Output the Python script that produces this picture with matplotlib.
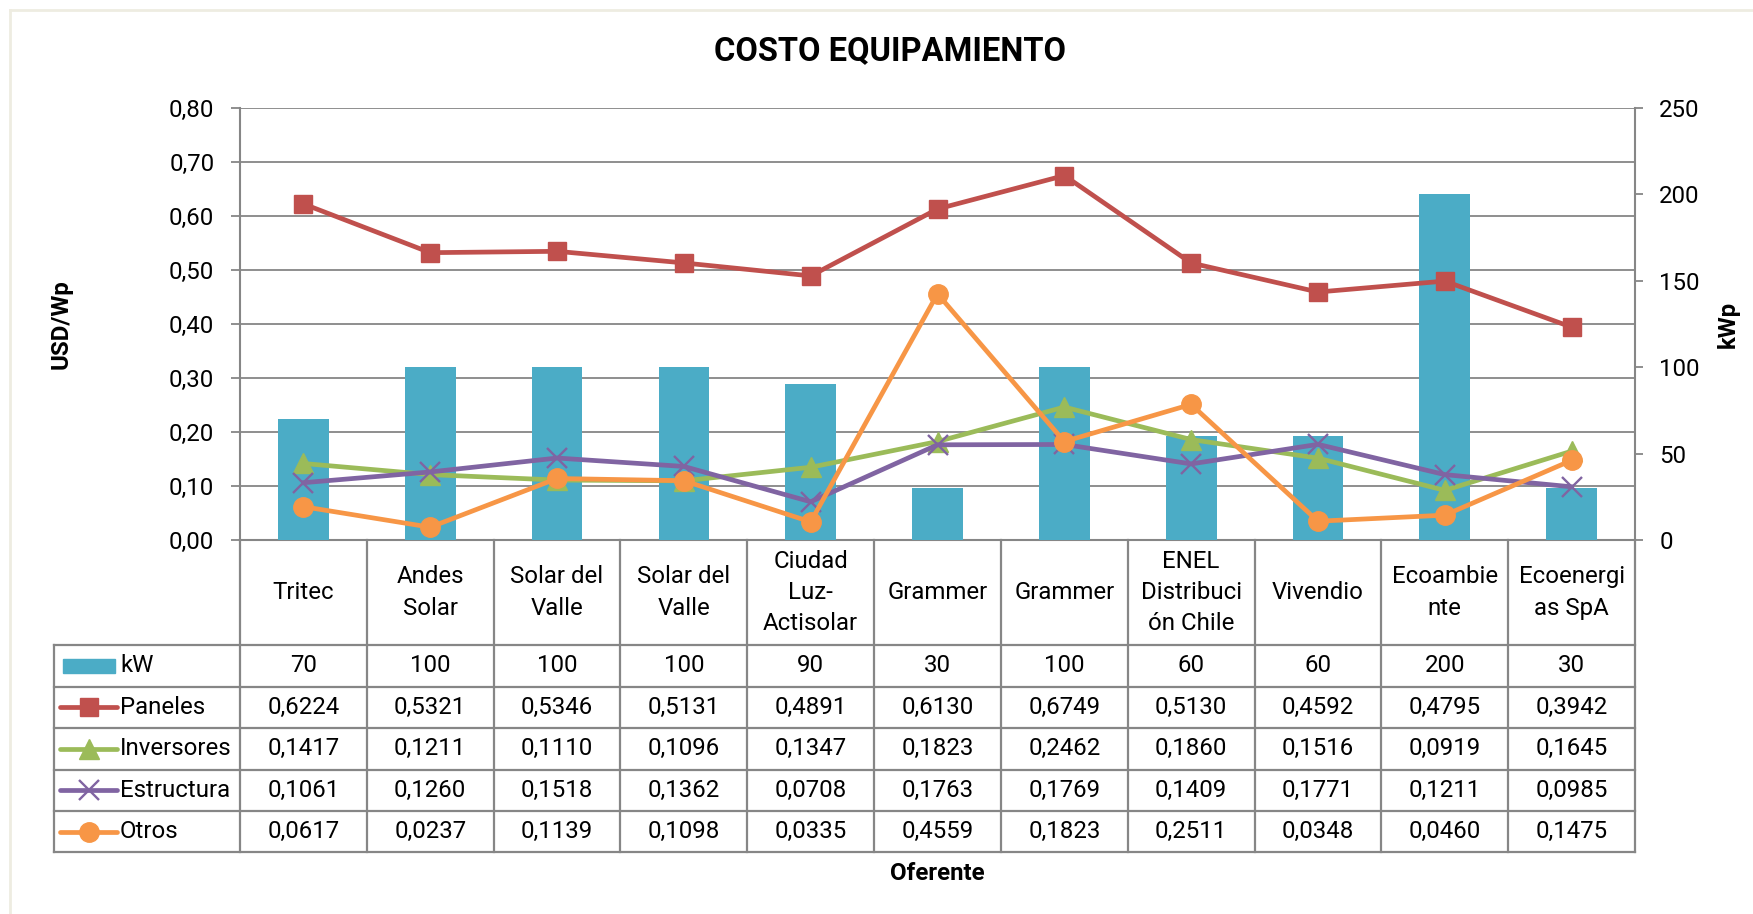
import numpy as np
import matplotlib
matplotlib.use("Agg")
import matplotlib.pyplot as plt
from matplotlib.transforms import blended_transform_factory
from matplotlib.lines import Line2D
from matplotlib.patches import Rectangle
from matplotlib.ticker import FuncFormatter, MultipleLocator

# ---------------- data ----------------
categories = ["Tritec", "Andes\nSolar", "Solar del\nValle", "Solar del\nValle",
              "Ciudad\nLuz-\nActisolar", "Grammer", "Grammer",
              "ENEL\nDistribuci\nón Chile", "Vivendio", "Ecoambie\nnte",
              "Ecoenergi\nas SpA"]
kw = [70, 100, 100, 100, 90, 30, 100, 60, 60, 200, 30]
paneles = [0.6224, 0.5321, 0.5346, 0.5131, 0.4891, 0.6130, 0.6749, 0.5130, 0.4592, 0.4795, 0.3942]
inversores = [0.1417, 0.1211, 0.1110, 0.1096, 0.1347, 0.1823, 0.2462, 0.1860, 0.1516, 0.0919, 0.1645]
estructura = [0.1061, 0.1260, 0.1518, 0.1362, 0.0708, 0.1763, 0.1769, 0.1409, 0.1771, 0.1211, 0.0985]
otros = [0.0617, 0.0237, 0.1139, 0.1098, 0.0335, 0.4559, 0.1823, 0.2511, 0.0348, 0.0460, 0.1475]

title = "COSTO EQUIPAMIENTO"
ylabel_left = "USD/Wp"
ylabel_right = "kWp"
xlabel = "Oferente"

# ---------------- style ----------------
plt.rcParams['font.family'] = ['Roboto', 'DejaVu Sans']
GRID = '#868686'
C_BAR = '#4BACC6'
series = [
    ("Paneles", paneles, '#C0504D', 's', 13, 0),
    ("Inversores", inversores, '#9BBB59', '^', 14, 0),
    ("Estructura", estructura, '#8064A2', 'x', 14, 1.7),
    ("Otros", otros, '#F79646', 'o', 14, 0),
]
FS = 17.3
LW = 3.4

W, H = 1753, 914
fig = plt.figure(figsize=(W / 100, H / 100), dpi=100)
L, R, T, B = 240, 1635, 108, 540
ax = fig.add_axes([L / W, 1 - B / H, (R - L) / W, (B - T) / H])
axb = ax.twinx()
axl = ax.twinx()
for a in (axb, axl):
    a.patch.set_visible(False)

n = len(categories)
x = np.arange(n)

# bars (secondary axis)
axb.bar(x, kw, width=0.4, color=C_BAR, zorder=2)
axb.set_ylim(0, 250)
axb.yaxis.set_major_locator(MultipleLocator(50))

# lines (primary scale)
for name, vals, col, mk, ms, mew in series:
    kwargs = dict(color=col, lw=LW, marker=mk, ms=ms, markerfacecolor=col,
                  markeredgecolor=col, clip_on=False)
    if mk == 'x':
        kwargs['markeredgewidth'] = mew
    axl.plot(x, vals, **kwargs)
axl.set_ylim(0, 0.8)
axl.set_yticks([])

# primary axis
ax.set_xlim(-0.5, n - 0.5)
ax.set_ylim(0, 0.8)
ax.yaxis.set_major_locator(MultipleLocator(0.1))
ax.yaxis.set_major_formatter(FuncFormatter(lambda v, p: f"{v:.2f}".replace('.', ',')))
ax.grid(axis='y', color=GRID, lw=1.3)
ax.set_axisbelow(True)
ax.set_xticks([])

for a in (ax, axb, axl):
    for s in a.spines.values():
        s.set_visible(False)
ax.spines['left'].set_visible(True)
ax.spines['left'].set_color(GRID)
ax.spines['left'].set_linewidth(1.5)
ax.spines['bottom'].set_visible(True)
ax.spines['bottom'].set_color(GRID)
ax.spines['bottom'].set_linewidth(1.5)
axb.spines['right'].set_visible(True)
axb.spines['right'].set_color(GRID)
axb.spines['right'].set_linewidth(1.5)

ax.tick_params(axis='y', length=6.5, width=1.3, color=GRID, labelsize=FS, pad=12)
axb.tick_params(axis='y', length=5.5, width=1.3, color=GRID, labelsize=FS, pad=12)
axb.tick_params(axis='x', length=0)
axl.tick_params(axis='x', length=0)

# ---------------- data table ----------------
colw = (R - L) / n
def xd(px):
    return -0.5 + (px - L) / colw
def yf(py):
    return (B - py) / (B - T)

tr = blended_transform_factory(ax.transData, ax.transAxes)
rows = [540, 645, 686.5, 728, 769.5, 811, 852]
x_left = xd(54)

def hline(py, x0, x1):
    ax.add_line(Line2D([x0, x1], [yf(py), yf(py)], transform=tr, color=GRID,
                       lw=1.6, clip_on=False))

def vline(xx, py0, py1):
    ax.add_line(Line2D([xx, xx], [yf(py0), yf(py1)], transform=tr, color=GRID,
                       lw=1.6, clip_on=False))

for py in rows[1:]:
    hline(py, x_left, n - 0.5)
for i in range(n + 1):
    vline(i - 0.5, rows[0], rows[-1])
vline(x_left, rows[1], rows[-1])

# category header
for i, c in enumerate(categories):
    ax.text(i, yf((rows[0] + rows[1]) / 2), c, transform=tr, ha='center', va='center',
            multialignment='center', fontsize=FS, linespacing=1.45)

def fmt(v):
    return f"{v:.4f}".replace('.', ',')

table_rows = [("kW", [str(v) for v in kw])] + [(s[0], [fmt(v) for v in s[1]]) for s in series]
for r, (name, texts) in enumerate(table_rows):
    yc = (rows[r + 1] + rows[r + 2]) / 2
    for i, t in enumerate(texts):
        ax.text(i, yf(yc), t, transform=tr, ha='center', va='center', fontsize=FS)
    # legend key
    yfig = 1 - yc / H
    if r == 0:
        fig.add_artist(Rectangle((63 / W, yfig - 7 / H), 52 / W, 14 / H,
                                 transform=fig.transFigure, color=C_BAR))
    else:
        _, _, col, mk, ms, mew = series[r - 1]
        fig.add_artist(Line2D([60 / W, 117 / W], [yfig, yfig], transform=fig.transFigure,
                              color=col, lw=LW, solid_capstyle='round'))
        kw_m = dict(marker=mk, ms=ms, color=col, markerfacecolor=col, markeredgecolor=col,
                    transform=fig.transFigure, lw=0)
        if mk == 'x':
            kw_m['markeredgewidth'] = mew
        fig.add_artist(Line2D([89 / W], [yfig], **kw_m))
    fig.text(120 / W, yfig, name, ha='left', va='center', fontsize=FS)

# ---------------- labels ----------------
fig.text(890 / W, 1 - 51 / H, title, ha='center', va='center', fontsize=23.5, fontweight='bold')
fig.text(61 / W, 1 - 324 / H, ylabel_left, ha='center', va='center', rotation=90,
         fontsize=FS, fontweight='bold')
fig.text(1728 / W, 1 - 324 / H, ylabel_right, ha='center', va='center', rotation=90,
         fontsize=FS, fontweight='bold')
fig.text(937 / W, 1 - 873 / H, xlabel, ha='center', va='center', fontsize=FS, fontweight='bold')

# outer frame
fig.add_artist(Line2D([10 / W, 1], [1 - 10 / H, 1 - 10 / H], transform=fig.transFigure,
                      color='#EEECE1', lw=2))
fig.add_artist(Line2D([10 / W, 10 / W], [1 - 10 / H, 0], transform=fig.transFigure,
                      color='#EEECE1', lw=2))

fig.savefig('out.png', dpi=100)
